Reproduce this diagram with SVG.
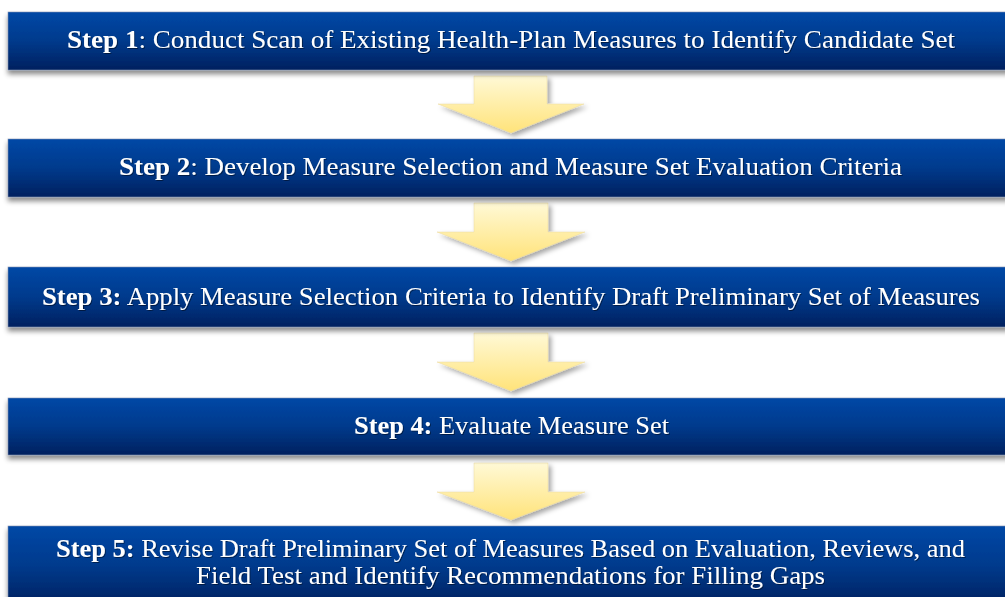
<svg xmlns="http://www.w3.org/2000/svg" width="1005" height="597" viewBox="0 0 1005 597">
<defs>
<linearGradient id="barGrad" x1="0" y1="0" x2="0" y2="1">
<stop offset="0" stop-color="#0048A6"/>
<stop offset="0.5" stop-color="#003A8C"/>
<stop offset="1" stop-color="#00215F"/>
</linearGradient>
<linearGradient id="arrowGrad" x1="0" y1="0" x2="0" y2="1">
<stop offset="0" stop-color="#FFF9D6"/>
<stop offset="1" stop-color="#FFE37A"/>
</linearGradient>
<filter id="barShadow" x="-5%" y="-20%" width="110%" height="150%">
<feDropShadow dx="0" dy="4" stdDeviation="2.5" flood-color="#000" flood-opacity="0.45"/>
</filter>
<filter id="arrowShadow" x="-20%" y="-20%" width="140%" height="150%">
<feDropShadow dx="3" dy="3" stdDeviation="2.5" flood-color="#000" flood-opacity="0.35"/>
</filter>
<filter id="textShadow" x="-5%" y="-30%" width="110%" height="160%">
<feDropShadow dx="1" dy="1" stdDeviation="0.6" flood-color="#000" flood-opacity="0.45"/>
</filter>
</defs>
<style>
.bar{fill:url(#barGrad);stroke:#8090B0;stroke-width:0.6;filter:url(#barShadow)}
.arrow{fill:url(#arrowGrad);stroke:#E8D9A0;stroke-width:0.5;filter:url(#arrowShadow)}
.label{font-family:"Liberation Serif","Times New Roman",serif;font-size:26px;fill:#FFFFFF;text-anchor:middle;filter:url(#textShadow)}
.b{font-weight:bold}
</style>
<rect width="1005" height="597" fill="#FFFFFF"/>
<g id="connectors">
<polygon class="arrow" points="474,76 547,76 547,104 584,104 511,133 438,104 474,104"/>
<polygon class="arrow" points="474,203 548,203 548,232 585,232 511,261 437,232 474,232"/>
<polygon class="arrow" points="474,333 548,333 548,362 585,362 511,391 437,362 474,362"/>
<polygon class="arrow" points="474,463 548,463 548,492 585,492 511,520 437,492 474,492"/>
</g>
<g id="step1">
<rect class="bar" x="8" y="12" width="1010" height="58"/>
<text class="label" x="511" y="48" textLength="888" lengthAdjust="spacingAndGlyphs"><tspan class="b">Step 1</tspan>: Conduct Scan of Existing Health-Plan Measures to Identify Candidate Set</text>
</g>
<g id="step2">
<rect class="bar" x="8" y="139" width="1010" height="58"/>
<text class="label" x="510.5" y="175" textLength="783" lengthAdjust="spacingAndGlyphs"><tspan class="b">Step 2</tspan>: Develop Measure Selection and Measure Set Evaluation Criteria</text>
</g>
<g id="step3">
<rect class="bar" x="8" y="267" width="1010" height="60"/>
<text class="label" x="511" y="305" textLength="938" lengthAdjust="spacingAndGlyphs"><tspan class="b">Step 3:</tspan> Apply Measure Selection Criteria to Identify Draft Preliminary Set of Measures</text>
</g>
<g id="step4">
<rect class="bar" x="8" y="398" width="1010" height="57"/>
<text class="label" x="511.5" y="434" textLength="315" lengthAdjust="spacingAndGlyphs"><tspan class="b">Step 4:</tspan> Evaluate Measure Set</text>
</g>
<g id="step5">
<rect class="bar" x="8" y="526" width="1010" height="80"/>
<text class="label" x="510.5" y="557" textLength="909" lengthAdjust="spacingAndGlyphs"><tspan class="b">Step 5:</tspan> Revise Draft Preliminary Set of Measures Based on Evaluation, Reviews, and</text>
<text class="label" x="510.5" y="584" textLength="629" lengthAdjust="spacingAndGlyphs">Field Test and Identify Recommendations for Filling Gaps</text>
</g>
</svg>
